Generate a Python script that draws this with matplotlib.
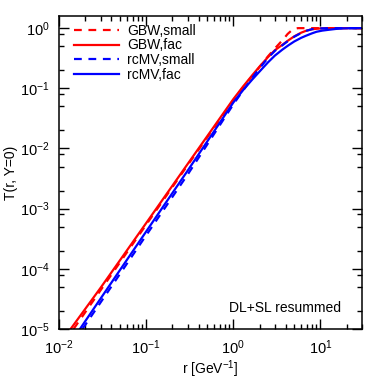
import numpy as np
import matplotlib
matplotlib.use("Agg")
import matplotlib.pyplot as plt
from matplotlib.ticker import LogLocator, NullFormatter

plt.rcParams['font.family'] = ['Liberation Sans', 'DejaVu Sans']
plt.rcParams['mathtext.fontset'] = 'custom'
plt.rcParams['mathtext.rm'] = 'Liberation Sans'
plt.rcParams['mathtext.default'] = 'regular'
plt.rcParams['axes.unicode_minus'] = False

# values
r_gbw_small = [0.0147, 0.03, 0.1, 0.3, 1.0, 1.3, 1.82, 2.5, 3.0, 3.36, 3.8, 4.2, 4.6, 5.0, 5.5, 30.0]
T_gbw_small = [1e-5, 4.4e-5, 5.4e-4, 5.3e-3, 0.063, 0.105, 0.19, 0.34, 0.46, 0.55, 0.67, 0.8, 0.9, 0.97, 1.0, 1.0]

r_gbw_fac = [0.0136, 0.03, 0.1, 0.3, 1.0, 1.3, 1.65, 2.0, 2.5, 3.0, 3.66, 4.3, 5.0, 6.0, 6.78, 8.0, 10.0, 13.0, 30.0]
T_gbw_fac = [1e-5, 4.83e-5, 5.75e-4, 5.55e-3, 0.066, 0.108, 0.165, 0.23, 0.33, 0.43, 0.53, 0.63, 0.73, 0.84, 0.9, 0.96, 0.99, 1.0, 1.0]

r_mv_small = [0.0186, 0.03, 0.1, 0.3, 1.0, 1.3, 1.65, 2.0, 2.5, 3.0, 3.66, 4.3, 5.0, 6.0, 6.78, 8.0, 10.0, 13.0, 30.0]
T_mv_small = [1e-5, 2.76e-5, 3.6e-4, 3.7e-3, 0.054, 0.093, 0.15, 0.215, 0.32, 0.42, 0.52, 0.62, 0.72, 0.83, 0.9, 0.96, 0.99, 1.0, 1.0]

r_mv_fac = [0.0174, 0.03, 0.1, 0.3, 0.607, 1.0, 1.3, 1.65, 2.0, 2.5, 3.0, 3.66, 4.3, 5.0, 6.0, 6.78, 8.0, 9.0,
            10.5, 12.5, 15.0, 18.0, 23.0, 30.0]
T_mv_fac = [1e-5, 3.2e-5, 4.16e-4, 4.3e-3, 0.0197, 0.058, 0.094, 0.14, 0.19, 0.27, 0.35, 0.44, 0.52, 0.6, 0.69,
            0.745, 0.82, 0.87, 0.91, 0.94, 0.97, 0.99, 1.0, 1.0]

fig = plt.figure(figsize=(3.87, 3.87), dpi=100)
ax = fig.add_axes([0.1525, 0.15, 0.783, 0.809])

lw = 1.6
ax.plot(r_gbw_small, T_gbw_small, color='#ff0000', lw=lw, dashes=(3.5, 3), label='GBW,small')
ax.plot(r_gbw_fac, T_gbw_fac, color='#ff0000', lw=lw, label='GBW,fac')
ax.plot(r_mv_small, T_mv_small, color='#0000ff', lw=lw, dashes=(3.5, 3), label='rcMV,small')
ax.plot(r_mv_fac, T_mv_fac, color='#0000ff', lw=lw, label='rcMV,fac')

ax.set_xscale('log')
ax.set_yscale('log')
ax.set_xlim(0.01, 30)
ax.set_ylim(1e-5, 1.6)

ax.yaxis.set_minor_locator(LogLocator(base=10, subs=[2, 5, 8], numticks=20))
ax.yaxis.set_minor_formatter(NullFormatter())
ax.xaxis.set_minor_locator(LogLocator(base=10, subs=np.arange(2, 10), numticks=20))
ax.xaxis.set_minor_formatter(NullFormatter())

fs = 10
ax.tick_params(which='both', direction='in', top=True, right=True, labelsize=10.5, width=1)
ax.tick_params(which='major', length=7, pad=7)
ax.tick_params(which='minor', length=3.5)
for s in ax.spines.values():
    s.set_linewidth(1.1)

ax.set_xlabel('r [GeV$^{-1}$]', fontsize=fs, labelpad=1)
ax.set_ylabel('T(r, Y=0)', fontsize=fs, labelpad=1)

ax.text(0.93, 0.067, 'DL+SL resummed', transform=ax.transAxes, ha='right', va='center', fontsize=fs)

ax.legend(loc='upper left', bbox_to_anchor=(0.05, 0.975), frameon=False, fontsize=fs,
          handlelength=3.2, handletextpad=0.6, labelspacing=0.05, borderpad=0, borderaxespad=0)

fig.savefig('out.png', dpi=100)
